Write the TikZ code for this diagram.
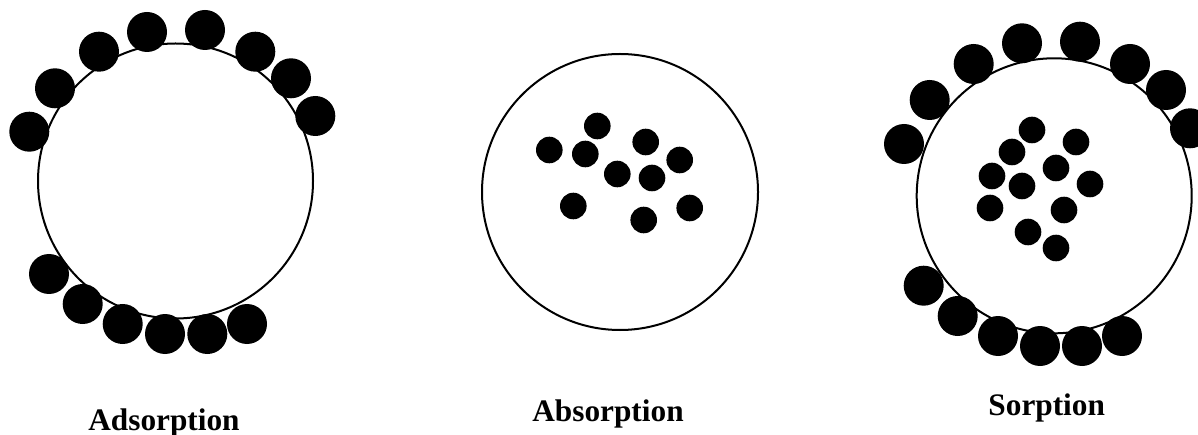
\documentclass[tikz,border=0pt]{standalone}
\usepackage{fontspec}
\setmainfont{Liberation Serif}
\begin{document}
\begin{tikzpicture}[x=1pt,y=-1pt,
  shell/.style={draw=black,line width=2pt,fill=white},
  bigdot/.style={fill=black},
  smalldot/.style={fill=black},
  lbl/.style={anchor=base,font=\fontsize{31.3}{36}\selectfont\bfseries,inner sep=0pt}]
\useasboundingbox (0,0) rectangle (1198,435);
% Adsorption
\draw[shell] (175.5,181) circle (137.5pt);
\foreach \p in {(29.3,131.7),(55,88.3),(99,51.7),(147,32),(205,30),(255.3,51.7),(291,78.3),(315.3,116),
  (49,274),(82.7,304),(122.7,324),(165,334),(207.3,334),(247,324)}
  \fill[bigdot] \p circle (20pt);
\node[lbl] (ads) at (164,430) {Adsorption};
% Absorption
\draw[shell] (620,192) circle (138pt);
\foreach \p in {(549.3,150),(597.3,126),(585.3,154),(645.7,142),(679.7,160),(617.3,174),(652,178),
  (573.3,206),(643.7,220),(689.7,208)}
  \fill[smalldot] \p circle (13.3pt);
\node[lbl] (abs) at (608,421.7) {Absorption};
% Sorption
\draw[shell] (1054.2,195.8) circle (137.5pt);
\foreach \p in {(904,144),(929.7,100),(973.7,64),(1022,43.3),(1080,41.7),(1130,64),(1166,90),(1190,128.3),
  (923.7,285.7),(957.7,316),(998,336),(1040,346),(1082,346),(1122,336)}
  \fill[bigdot] \p circle (20pt);
\foreach \p in {(1032,130),(1012,152),(1076,142),(992,176),(1056,168),(1022,186),(1090,184),
  (990,208),(1064,210),(1028,232),(1056,248)}
  \fill[smalldot] \p circle (13.3pt);
\node[lbl] (sorp) at (1046.7,415) {Sorption};
\end{tikzpicture}
\end{document}
